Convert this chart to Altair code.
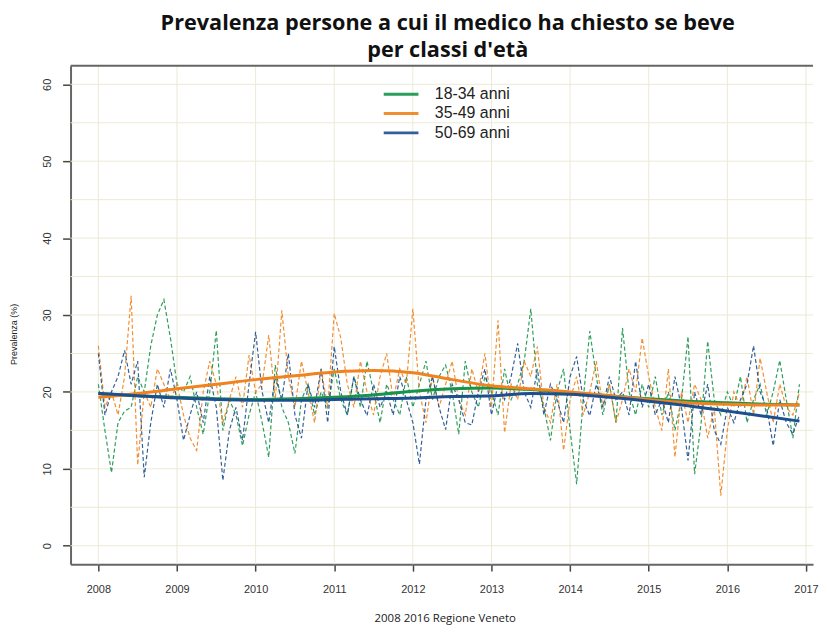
import altair as alt
import pandas as pd

series_names = ["18-34 anni", "35-49 anni", "50-69 anni"]
colors = ["#17934A", "#F0831E", "#1D4F8F"]

# monthly values, Jan 2008 .. Dec 2016
green = [21, 15, 9.5, 16, 17.5, 18, 22, 20, 26, 30, 32, 27,
         21, 20, 22, 18, 14.5, 20, 28, 15, 19, 17, 13, 17,
         20, 16, 11.5, 23.5, 18, 16, 12, 19, 21, 17, 20, 18,
         23, 19, 17, 22, 18, 24, 20, 16, 21, 19, 17, 22,
         18, 21, 24, 19, 22, 23.5, 20, 14.5, 24, 20, 18, 22,
         20, 17, 23, 19, 21, 24, 30.8, 21, 18, 13.7, 20, 23,
         15, 8, 19, 27.9, 22, 17, 21, 16, 28.3, 20, 17, 21,
         18, 22, 17, 20, 15, 19, 27.2, 9.3, 16, 26.6, 19, 17,
         20, 18, 22, 16, 19, 21, 17, 20, 24.1, 19, 14, 21]
orange = [26, 18, 20, 17, 22, 32.5, 10.5, 20, 18, 23, 21, 19,
          21, 17, 14, 12.4, 20, 24, 21, 16, 19, 22, 18, 24.8,
          20, 21, 27.4, 19, 30.6, 22, 18, 24, 20, 16, 23, 18,
          30.2, 27, 21, 18, 24, 20, 17, 22, 25, 19, 23, 21,
          30.8, 20, 16, 22, 18, 21, 24, 19, 17, 23, 20, 25,
          18, 29.3, 14.7, 21, 19, 24, 22, 25.9, 18, 16, 21, 12.4,
          19, 22, 17, 20, 24, 18, 21, 16, 19, 23, 20, 27,
          22, 18, 15, 23, 11.5, 20, 16, 21, 19, 14, 18, 6.5,
          15, 20, 18, 22, 17, 24.4, 20, 16, 21, 18, 17, 19.9]
blue = [25, 17, 20, 22, 25.4, 21, 24, 8.9, 16, 21, 18, 23,
        19, 13.7, 17, 20, 16, 22, 18, 8.5, 15, 18, 13.7, 21,
        27.8, 20, 16, 22, 19, 25, 17, 14, 21, 18, 23, 16,
        25.9, 20, 17, 22, 19, 16.9, 21, 18, 20, 17, 22, 19,
        16, 10.6, 19, 22, 18, 15.1, 21, 19, 16, 15.7, 20, 23,
        17, 21, 19, 22, 26.3, 20, 18, 23, 17, 21, 19, 16,
        22, 24.6, 19, 16.9, 21, 18, 22, 19, 20, 17, 24, 18,
        21, 17, 19, 16, 22, 18, 11.1, 20, 17, 21, 15, 13.2,
        18, 16, 19, 21, 26, 20, 18, 13, 19, 16, 14.5, 17]

# smoothed trends
trend_t = [2008, 2008.5, 2009, 2009.5, 2010, 2010.5, 2011, 2011.5, 2012, 2012.5,
           2013, 2013.5, 2014, 2014.5, 2015, 2015.5, 2016, 2016.5, 2016.917]
trend_green = [19.8, 19.5, 19.3, 19.1, 19.0, 19.1, 19.3, 19.6, 20.1, 20.4,
               20.5, 20.3, 19.9, 19.5, 19.1, 18.8, 18.6, 18.4, 18.3]
trend_orange = [19.3, 19.8, 20.4, 21.0, 21.6, 22.1, 22.6, 22.8, 22.5, 21.6,
                20.8, 20.4, 20.0, 19.5, 19.0, 18.6, 18.4, 18.3, 18.3]
trend_blue = [19.8, 19.5, 19.2, 19.0, 18.9, 18.9, 19.0, 19.1, 19.2, 19.4,
              19.5, 19.8, 19.7, 19.3, 18.8, 18.2, 17.5, 16.8, 16.2]

x_ticks = list(range(2008, 2018))
y_ticks = [0, 10, 20, 30, 40, 50, 60]
y_grid = [0, 5, 10, 15, 20, 25, 30, 35, 40, 45, 50, 55, 60]
x_domain = [2007.646, 2017.09]
y_domain = [-2.4, 62.4]

rows = []
for name, vals in zip(series_names, [green, orange, blue]):
    for i, v in enumerate(vals):
        rows.append({"t": 2008 + i / 12, "v": v, "serie": name})
df = pd.DataFrame(rows)

trows = []
for name, vals in zip(series_names, [trend_green, trend_orange, trend_blue]):
    for t, v in zip(trend_t, vals):
        trows.append({"t": t, "v": v, "serie": name})
tdf = pd.DataFrame(trows)

xscale = alt.Scale(domain=x_domain, nice=False, zero=False)
yscale = alt.Scale(domain=y_domain, nice=False, zero=False)
cscale = alt.Scale(domain=series_names, range=colors)

xaxis = alt.Axis(values=x_ticks, format="d", grid=False, title="2008 2016 Regione Veneto",
                 domainColor="#666", domainWidth=2, tickColor="#444", tickWidth=1.5,
                 tickSize=7, labelPadding=13, labelFontSize=11, labelColor="#333",
                 labelFont="Liberation Sans", titleFont="Open Sans", titleFontSize=11.5,
                 titleFontWeight="normal", titleColor="#222", titlePadding=18, titleX=377)
yaxis = alt.Axis(values=y_ticks, grid=False, title="Prevalenza (%)",
                 domainColor="#666", domainWidth=2, tickColor="#444", tickWidth=1.5,
                 tickSize=8, labelPadding=15, labelAngle=270, labelAlign="center",
                 labelBaseline="middle", labelFontSize=11, labelColor="#333",
                 labelFont="Liberation Sans", titleFont="Liberation Sans", titleFontSize=9,
                 titleFontWeight="normal", titleColor="#222", titleX=-52, titleY=270)

legend = alt.Legend(title=None, orient="none", legendX=324.5, legendY=20,
                    symbolType="M-2.5,0H2.5", symbolSize=196,
                    symbolStrokeWidth=3, symbolDash=[1, 0],
                    labelFont="Liberation Sans", labelFontSize=16,
                    labelColor="#222", labelOffset=25.5, rowPadding=2.5)

hgrid = alt.Chart(pd.DataFrame({"g": y_grid})).mark_rule(color="#ECE9D4", strokeWidth=1).encode(
    y=alt.Y("g:Q", scale=yscale, axis=yaxis))
vgrid = alt.Chart(pd.DataFrame({"g": x_ticks})).mark_rule(color="#ECE9D4", strokeWidth=1).encode(
    x=alt.X("g:Q", scale=xscale, axis=xaxis))

raw = alt.Chart(df).mark_line(strokeWidth=1.2, strokeDash=[4, 2.5], opacity=0.9).encode(
    x=alt.X("t:Q", scale=xscale, axis=xaxis),
    y=alt.Y("v:Q", scale=yscale, axis=yaxis),
    color=alt.Color("serie:N", scale=cscale, sort=series_names, legend=legend),
)

trend = alt.Chart(tdf).mark_line(strokeWidth=3, interpolate="monotone").encode(
    x=alt.X("t:Q", scale=xscale, axis=xaxis),
    y=alt.Y("v:Q", scale=yscale, axis=yaxis),
    color=alt.Color("serie:N", scale=cscale, sort=series_names, legend=legend),
)

frame_top = alt.Chart(pd.DataFrame({"g": [y_domain[1]]})).mark_rule(color="#666", strokeWidth=2).encode(
    y=alt.Y("g:Q", scale=yscale, axis=yaxis))

chart = alt.layer(hgrid, vgrid, raw, trend, frame_top).properties(
    width=748, height=502,
    padding={"left": 2, "top": 3, "right": 0, "bottom": 0},
    title=alt.TitleParams(
        text=["Prevalenza persone a cui il medico ha chiesto se beve", "per classi d'età"],
        font="Open Sans", fontSize=21.8, fontWeight="bold", color="#111",
        lineHeight=27, offset=3, anchor="middle", dx=6),
).configure_view(stroke=None)

chart.save("out.html", embed_options={"renderer": "svg", "actions": False})
